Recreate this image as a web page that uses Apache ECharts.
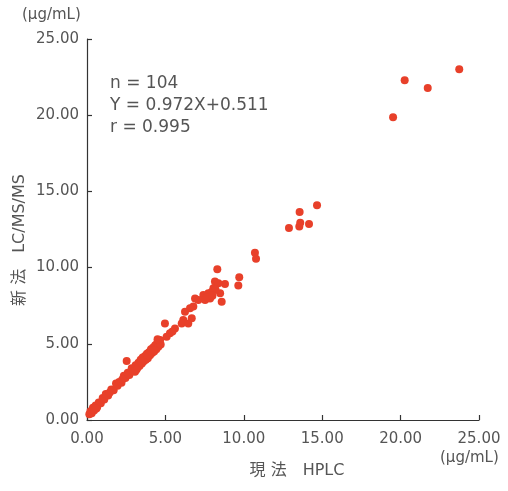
<!DOCTYPE html>
<html><head><meta charset="utf-8">
<script src="https://cdn.jsdelivr.net/npm/echarts@6/dist/echarts.min.js"></script>
<style>html,body{margin:0;padding:0;background:#fff}#c{width:508px;height:491px}</style>
</head><body><div id="c"></div>
<script>
// HPLC (current method) vs LC/MS/MS (new method), µg/mL
const upperPoints = [
  [23.74,23.01],[20.26,22.29],[21.73,21.78],[19.52,19.86],
  [14.67,14.09],[13.56,13.65],[13.60,12.95],[13.54,12.69],[14.16,12.86],[12.88,12.60],
  [10.71,10.98],[10.78,10.58],[8.31,9.89],[9.71,9.36],[9.65,8.82],[8.80,8.92],
  [8.16,9.08],[8.38,8.97],[8.06,8.65],[7.74,8.31],[7.42,8.20],[7.85,7.98],
  [7.53,7.87],[7.10,7.87],[6.89,7.98],[8.49,8.31],[8.59,7.76],[6.78,7.44],
  [6.57,7.33],[6.25,7.11],[6.14,6.56],[6.68,6.67],[6.04,6.34],[6.46,6.34],
  [4.97,6.34],[5.61,6.01],[5.29,5.69],[5.08,5.47],[4.66,5.25],
  [7.95,8.40],[8.20,8.55],[7.65,8.05],[8.00,8.15],[5.45,5.80]
];
const lowerPoints = [
  [0.15,0.38],[0.22,0.58],[0.30,0.45],[0.38,0.80],[0.45,0.62],[0.55,0.95],
  [0.65,0.85],[0.75,1.15],[0.88,1.10],[1.00,1.45],[1.10,1.35],[1.20,1.70],
  [1.35,1.60],[1.55,2.00],[1.70,1.95],[1.85,2.40],[1.95,2.25],[2.05,2.50],
  [2.20,2.45],[2.35,2.90],[2.45,2.75],[2.53,3.87],[2.60,3.10],[2.70,2.95],
  [2.85,3.40],[2.95,3.20],[3.06,3.17],[3.10,3.60],[3.20,3.40],[3.28,3.75],
  [3.35,3.55],[3.42,3.95],[3.50,3.70],[3.55,4.10],[3.62,3.85],[3.70,4.20],
  [3.75,3.95],[3.82,4.35],[3.88,4.05],[3.95,4.45],[4.02,4.25],[4.08,4.65],
  [4.15,4.40],[4.22,4.75],[4.28,4.50],[4.35,4.90],[4.42,4.65],[4.48,5.05],
  [4.55,4.80],[4.62,5.20],[4.70,4.95],[3.15,3.30],[3.45,3.85],[3.90,4.25],
  [4.25,4.60],[2.25,2.65],[1.45,1.80],[0.60,0.75],[4.50,5.30],[4.05,4.50]
];
const statLines = ['n = 104', 'Y = 0.972X+0.511', 'r = 0.995'];
const unitLabel = '(\u03bcg/mL)';
const xName = '現 法　HPLC';
const yName = '新 法　LC/MS/MS';

const FONT = '"DejaVu Sans","Noto Sans CJK JP",sans-serif';
const chart = echarts.init(document.getElementById('c'));
const axisCommon = {
  type: 'value', min: 0, max: 25, interval: 5,
  splitLine: {show: false},
  axisLine: {show: true, lineStyle: {color: '#333', width: 1.2}},
  axisTick: {show: true, inside: true, length: 5, lineStyle: {color: '#333', width: 1.2}},
  axisLabel: {color: '#555', fontSize: 15, fontFamily: FONT, formatter: v => v.toFixed(2)}
};
chart.setOption({
  animation: false,
  grid: {left: 87, right: 29, top: 39, bottom: 71},
  xAxis: Object.assign({}, axisCommon, {axisLabel: Object.assign({}, axisCommon.axisLabel, {margin: 12})}),
  yAxis: Object.assign({}, axisCommon, {axisLabel: Object.assign({}, axisCommon.axisLabel, {margin: 8})}),
  series: [{
    type: 'scatter', symbolSize: 8,
    itemStyle: {color: '#e8402a', opacity: 1},
    data: upperPoints.concat(lowerPoints)
  }],
  graphic: [
    {type: 'text', left: 22, top: 8, style: {text: unitLabel, fill: '#555', font: '15px ' + FONT}},
    {type: 'text', left: 440, top: 451, style: {text: unitLabel, fill: '#555', font: '15px ' + FONT}},
    {type: 'text', x: 297, y: 471, style: {text: xName, fill: '#555', font: '16px ' + FONT, align: 'center', verticalAlign: 'middle'}},
    {type: 'text', x: 20, y: 240, rotation: Math.PI / 2, style: {text: yName, fill: '#555', font: '16px ' + FONT, align: 'center', verticalAlign: 'middle'}},
    {type: 'text', left: 110, top: 73, style: {text: statLines.join('\n'), fill: '#555', font: '17px ' + FONT, lineHeight: 22}}
  ]
});
</script></body></html>
